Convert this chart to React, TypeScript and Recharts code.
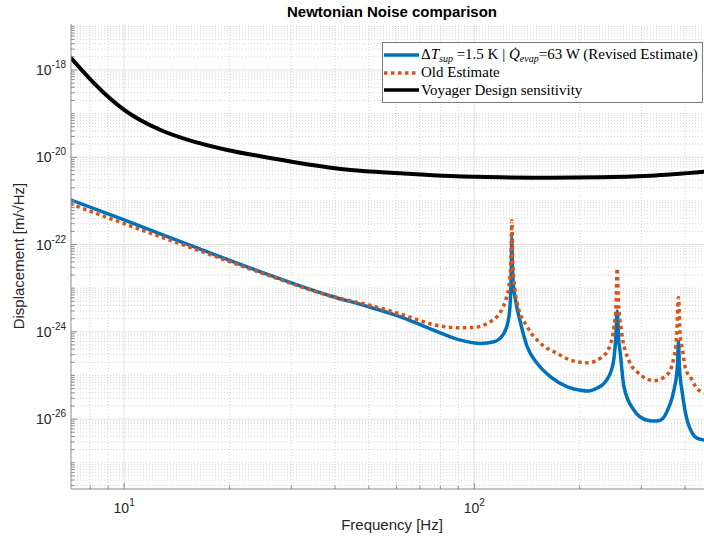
import React from 'react';
import { LineChart, Line, XAxis, YAxis, ReferenceLine, Legend } from 'recharts';

// Voyager design sensitivity
const voyagerFreq = [7, 8.2, 9.1, 10, 12.7, 15.8, 19.7, 24.5, 31.9, 44.3, 61.5, 85.5, 119, 165, 230, 319, 455];
const voyagerDisp = [
  2.0e-18, 5.0e-19, 2.25e-19, 1.22e-19, 4.2e-20, 2.28e-20, 1.47e-20, 1.05e-20, 7.3e-21, 5.1e-21, 4.3e-21,
  3.72e-21, 3.47e-21, 3.4e-21, 3.47e-21, 3.79e-21, 4.68e-21,
];

// revised estimate (dT_sup = 1.5 K, Q_evap = 63 W)
const revisedFreq = [
  7, 10, 16.5, 25, 38.9, 50, 61.6, 76.5, 91.4, 104.2, 113.8, 121.5, 125.6, 127, 127.6, 128, 128.5, 129.2, 131.2,
  135.6, 141.7, 151.4, 165.2, 184.4, 201, 212, 225, 234.6, 248, 253.3, 256, 258.6, 260.6, 267.6, 285.8, 312, 330,
  340.6, 359.7, 371.8, 380.2, 383, 385.5, 392.9, 406.1, 433.6, 455,
];
const revisedDisp = [
  1.07e-21, 3.67e-22, 7.8e-23, 2.24e-23, 6.6e-24, 3.74e-24, 2.21e-24, 1.09e-24, 6.46e-25, 5.42e-25, 5.9e-25,
  9.2e-25, 2.2e-24, 7.6e-24, 3.0e-23, 1.35e-22, 3.0e-23, 1.3e-23, 5.3e-24, 1.58e-24, 4.5e-25, 1.88e-25, 9.3e-26,
  5.5e-26, 4.6e-26, 4.4e-26, 5.2e-26, 6.56e-26, 1.57e-25, 6.46e-25, 3.0e-24, 6.0e-25, 3.8e-25, 5.48e-26,
  1.6e-26, 9.44e-27, 9.0e-27, 9.44e-27, 1.9e-26, 4.6e-26, 1.57e-25, 6.0e-25, 1.5e-25, 3.9e-26, 9.0e-27,
  3.6e-27, 3.3e-27,
];

// old estimate
const oldFreq = [
  7, 10, 16.5, 25, 38.9, 50, 61.6, 80.1, 91.4, 99.5, 108.9, 118.9, 122.9, 125.6, 127.2, 128, 128.8, 130.5, 132.7,
  141.7, 154.7, 172.6, 188.4, 210.3, 232.1, 245.2, 250.6, 254, 256, 258, 263, 276.5, 295.3, 326.1, 355.9, 371.8,
  378.5, 383, 387.5, 392.9, 401.5, 415, 428.9, 453,
];
const oldDisp = [
  8.6e-22, 3.0e-22, 7.1e-23, 2.15e-23, 6.6e-24, 4.1e-24, 2.54e-24, 1.35e-24, 1.24e-24, 1.26e-24, 1.56e-24,
  2.88e-24, 5.33e-24, 1.1e-23, 4.0e-23, 3.5e-22, 4.0e-23, 1.0e-23, 4.5e-24, 1.3e-24, 5.4e-25, 3.2e-25, 2.24e-25,
  1.95e-25, 2.67e-25, 5.4e-25, 1.3e-24, 4.0e-24, 2.85e-23, 5.0e-24, 1.1e-24, 2.2e-25, 1.1e-25, 7.6e-26,
  1.05e-25, 2.67e-25, 8.0e-25, 6.15e-24, 8.0e-25, 4.0e-25, 1.4e-25, 9.0e-26, 5.5e-26, 4.0e-26,
];

const xTicks = [10, 100];
const yTicks = [1e-26, 1e-24, 1e-22, 1e-20, 1e-18];
const gridDecades = [1, 10, 100];
const yGridDecades = [-28, -27, -26, -25, -24, -23, -22, -21, -20, -19, -18, -17];
const minorSteps = [2, 3, 4, 5, 6, 7, 8, 9];

const revisedName = 'ΔT_sup =1.5 K | Q̇_evap=63 W (Revised Estimate)';
const oldName = 'Old Estimate';
const voyagerName = 'Voyager Design sensitivity';
const legendOrder = [revisedName, oldName, voyagerName];

const toPoints = (freq: number[], disp: number[]) => freq.map((f, i) => ({ f, d: disp[i] }));

const BLUE = '#0072BD';
const ORANGE = '#D95319';
const AXIS = '#8c8c8c';
const sans = '"Liberation Sans", Arial, Helvetica, sans-serif';
const serif = '"Liberation Serif", "Times New Roman", serif';

const xMinor = gridDecades.flatMap((d) => minorSteps.map((m) => m * d));
const yMajor = yGridDecades.filter((e) => e % 2 === 0).map((e) => Math.pow(10, e));
const yMinor = yGridDecades.flatMap((e) =>
  (e % 2 === 0 ? minorSteps : [1, ...minorSteps]).map((m) => m * Math.pow(10, e))
);
const isLabelled = (v: number, list: number[]) => list.some((t) => Math.abs(v / t - 1) < 1e-6);

// tick marks point inward (MATLAB style); labels only on the labelled decades
const XTick = (props: any) => {
  const { x, y, payload } = props;
  const major = isLabelled(payload.value, xTicks);
  const axisY = y - 5;
  return (
    <g>
      <line x1={x} y1={axisY} x2={x} y2={axisY - (major ? 6 : 3.5)} stroke={AXIS} strokeWidth={1} />
      {major && (
        <text x={x} y={y + 19} textAnchor="middle" fill="#262626" fontSize={14} fontFamily={sans}>
          <tspan>10</tspan>
          <tspan dy={-7} fontSize={10}>{Math.round(Math.log10(payload.value))}</tspan>
        </text>
      )}
    </g>
  );
};

const YTick = (props: any) => {
  const { x, y, payload } = props;
  const major = isLabelled(payload.value, yTicks);
  const axisX = x + 5;
  return (
    <g>
      <line x1={axisX} y1={y} x2={axisX + (major ? 6 : 3.5)} y2={y} stroke={AXIS} strokeWidth={1} />
      {major && (
        <text x={x} y={y + 5} textAnchor="end" fill="#262626" fontSize={14} fontFamily={sans}>
          <tspan>10</tspan>
          <tspan dy={-7} fontSize={10}>{Math.round(Math.log10(payload.value))}</tspan>
        </text>
      )}
    </g>
  );
};

const sub = (t: string) => (
  <span style={{ fontSize: 10, fontStyle: 'italic', position: 'relative', top: 3 }}>{t}</span>
);

const legendLabel = (name: string) => {
  if (name !== revisedName) return name;
  return (
    <>
      Δ<i>T</i>
      {sub('sup')} =1.5 K | <i>Q̇</i>
      {sub('evap')}=63 W (Revised Estimate)
    </>
  );
};

const legendDash: Record<string, string | undefined> = {
  [revisedName]: undefined,
  [oldName]: '3.5 3.5',
  [voyagerName]: undefined,
};

const LegendBox = (props: any) => {
  const payload = [...(props.payload || [])].sort(
    (a: any, b: any) => legendOrder.indexOf(a.value) - legendOrder.indexOf(b.value)
  );
  return (
    <div
      style={{
        border: '1px solid #7a7a7a',
        background: '#fff',
        padding: '3px 4px 3px 1px',
        fontFamily: serif,
        fontSize: 15,
        lineHeight: '17.3px',
        color: '#000',
        boxSizing: 'border-box',
        width: 321,
      }}
    >
      {payload.map((entry: any) => (
        <div key={entry.value} style={{ display: 'flex', alignItems: 'center', whiteSpace: 'nowrap' }}>
          <svg width={36} height={6} style={{ flex: 'none' }}>
            <line x1={0} y1={3} x2={35} y2={3} stroke={entry.color} strokeWidth={3.5} strokeDasharray={legendDash[entry.value]} />
          </svg>
          <span style={{ marginLeft: 1 }}>{legendLabel(entry.value)}</span>
        </div>
      ))}
    </div>
  );
};

export default function App() {
  return (
    <div style={{ position: 'absolute', left: 0, top: 0, width: 704, height: 542, background: '#fff', overflow: 'hidden' }}>
      <LineChart width={704} height={542} margin={{ top: 24, right: 0, bottom: 0, left: 0 }}>
        {xMinor.map((v) => (
          <ReferenceLine key={'xm' + v} x={v} stroke="#d4d4d4" strokeDasharray="1 2" ifOverflow="discard" />
        ))}
        {yMinor.map((v) => (
          <ReferenceLine key={'ym' + v} y={v} stroke="#d4d4d4" strokeDasharray="1 2" ifOverflow="discard" />
        ))}
        {xTicks.map((v) => (
          <ReferenceLine key={'xM' + v} x={v} stroke="#e3e3e3" ifOverflow="discard" />
        ))}
        {yMajor.map((v) => (
          <ReferenceLine key={'yM' + v} y={v} stroke="#e3e3e3" ifOverflow="discard" />
        ))}
        <XAxis
          dataKey="f"
          type="number"
          scale="log"
          domain={[7.05, 453]}
          allowDataOverflow
          ticks={[...xMinor, ...xTicks].filter((v) => v >= 7.05 && v <= 453)}
          interval={0}
          height={53}
          tickSize={5}
          tickMargin={0}
          tickLine={false}
          axisLine={{ stroke: AXIS }}
          tick={<XTick />}
        />
        <YAxis
          type="number"
          scale="log"
          domain={[2.5e-28, 1.13e-17]}
          allowDataOverflow
          ticks={[...yMinor, ...yMajor].filter((v) => v >= 2.5e-28 && v <= 1.13e-17)}
          interval={0}
          width={71}
          tickSize={5}
          tickMargin={0}
          tickLine={false}
          axisLine={{ stroke: AXIS }}
          tick={<YTick />}
        />
        <Legend
          layout="horizontal"
          verticalAlign="middle"
          itemSorter={(item: any) => legendOrder.indexOf(item.value)}
          content={<LegendBox />}
          wrapperStyle={{ left: 382, top: 42, width: 321, height: 'auto' }}
        />
        <Line
          data={toPoints(revisedFreq, revisedDisp)}
          dataKey="d"
          name={revisedName}
          type="monotone"
          stroke={BLUE}
          strokeWidth={3.5}
          dot={false}
          isAnimationActive={false}
        />
        <Line
          data={toPoints(oldFreq, oldDisp)}
          dataKey="d"
          name={oldName}
          type="monotone"
          stroke={ORANGE}
          strokeWidth={3.5}
          strokeDasharray="3.5 3.5"
          dot={false}
          isAnimationActive={false}
        />
        <Line
          data={toPoints(voyagerFreq, voyagerDisp)}
          dataKey="d"
          name={voyagerName}
          type="monotone"
          stroke="#000"
          strokeWidth={4}
          dot={false}
          isAnimationActive={false}
        />
      </LineChart>
      <div
        style={{
          position: 'absolute', left: 242, top: 2, width: 300, textAlign: 'center',
          fontFamily: sans, fontWeight: 'bold', fontSize: 15, lineHeight: '20px', color: '#000',
        }}
      >
        Newtonian Noise comparison
      </div>
      <div
        style={{
          position: 'absolute', left: 292, top: 515, width: 200, textAlign: 'center',
          fontFamily: sans, fontSize: 15, lineHeight: '20px', color: '#262626',
        }}
      >
        Frequency [Hz]
      </div>
      <div
        style={{
          position: 'absolute', left: -81, top: 246, width: 200, textAlign: 'center',
          fontFamily: sans, fontSize: 15, lineHeight: '20px', color: '#262626', transform: 'rotate(-90deg)',
        }}
      >
        Displacement [m/√Hz]
      </div>
    </div>
  );
}
